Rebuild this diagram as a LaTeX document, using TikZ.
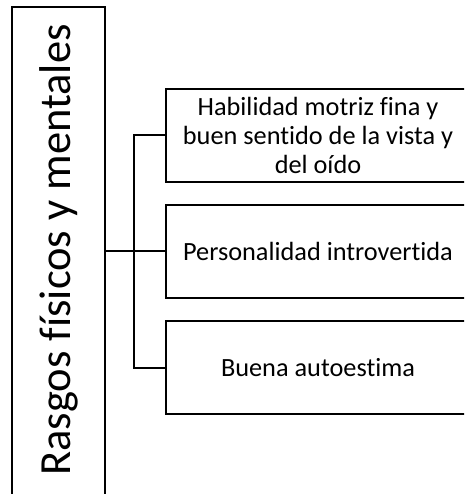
\documentclass[tikz,border=0pt]{standalone}
\usepackage{fontspec}
\setmainfont{Carlito}[Ligatures=NoCommon]
\begin{document}
\begin{tikzpicture}[x=1pt,y=1pt,
  box/.style={draw=black,line width=2pt,rectangle,inner sep=0pt,align=center},
  item/.style={box,minimum width=304pt,minimum height=93pt,font=\fontsize{26.3}{29.3}\selectfont},
  conn/.style={draw=black,line width=2pt}]
\useasboundingbox (0,0) rectangle (464,494);
\clip (0,0) rectangle (464,494);
\node[box,minimum width=93pt,minimum height=492pt] (main) at (58.5,241) {};
\node[rotate=90,font=\fontsize{44.5}{50}\selectfont] (maintext) at (58.5,244) {Rasgos físicos y mentales};
\node[item] (b1) at (318,358.5) {Habilidad motriz fina y\\buen sentido de la vista y\\del oído};
\node[item] (b2) at (318,242.5) {Personalidad introvertida};
\node[item] (b3) at (318,126) {Buena autoestima};
\draw[conn] (main.east |- b2.west) -- (b2.west);
\draw[conn] (b1.west) -- ++(-31,0) |- (b3.west);
\end{tikzpicture}
\end{document}
